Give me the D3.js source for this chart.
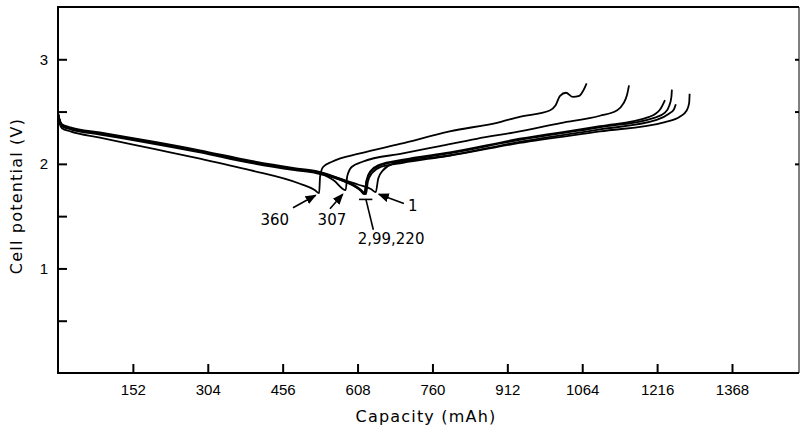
<!DOCTYPE html>
<html>
<head>
<meta charset="utf-8">
<script src="https://cdn.jsdelivr.net/npm/d3@7"></script>
<style>
  body { margin: 0; background: #fff; }
  svg { display: block; font-family: "DejaVu Sans", sans-serif; }
  .tick-label { font-size: 15px; fill: #000; }
  .axis-title { font-size: 16px; letter-spacing: 1.2px; fill: #000; }
  .note { font-size: 15px; fill: #000; }
</style>
</head>
<body>
<svg id="chart" width="800" height="429"></svg>
<script>
// tick values
const capacityTicks = [152, 304, 456, 608, 760, 912, 1064, 1216, 1368];
const voltageTicks = [0.5, 1, 1.5, 2, 2.5, 3];
const voltageLabels = [1, 2, 3];

// cycles: [capacity mAh, potential V]
const cycle1 = [[0,2.48],[3,2.42],[8,2.37],[25,2.34],[85,2.29],[197,2.20],[288,2.12],[390,2.02],[480,1.95],[525,1.92],[572,1.86],[610,1.80],[635,1.76],[645,1.73],
  [650,1.86],[660,1.94],[680,2.00],[714,2.03],[795,2.08],[937,2.20],[1100,2.31],[1232,2.40],[1262,2.45],[1276,2.51],[1281,2.58],[1282,2.67]];
const cycle2 = [[0,2.49],[3,2.43],[8,2.38],[25,2.35],[85,2.30],[197,2.21],[288,2.13],[390,2.03],[480,1.96],[525,1.93],[572,1.86],[600,1.80],[615,1.75],[623,1.71],
  [626,1.84],[634,1.93],[652,1.99],[700,2.04],[795,2.11],[937,2.24],[1100,2.36],[1200,2.45],[1222,2.52],[1232,2.61]];
const cycle99 = [[0,2.48],[3,2.42],[8,2.37],[25,2.34],[85,2.29],[197,2.20],[288,2.12],[390,2.02],[480,1.95],[525,1.92],[572,1.85],[600,1.79],[615,1.74],[621,1.71],
  [626,1.83],[634,1.92],[652,1.98],[700,2.03],[795,2.10],[937,2.23],[1100,2.35],[1210,2.44],[1232,2.49],[1241,2.56],[1245,2.64],[1246,2.71]];
const cycle220 = [[0,2.47],[3,2.41],[8,2.36],[25,2.33],[85,2.28],[197,2.19],[288,2.11],[390,2.01],[480,1.94],[525,1.91],[572,1.85],[600,1.79],[617,1.74],[625,1.71],
  [629,1.83],[637,1.91],[655,1.97],[700,2.01],[795,2.08],[937,2.21],[1100,2.33],[1215,2.42],[1240,2.48],[1250,2.52],[1254,2.57]];
const cycle307 = [[0,2.48],[3,2.42],[8,2.37],[25,2.34],[85,2.29],[197,2.20],[288,2.12],[390,2.02],[480,1.95],[525,1.92],[560,1.84],[584,1.75],
  [587,1.88],[596,1.97],[618,2.02],[700,2.10],[775,2.17],[850,2.24],[937,2.31],[1020,2.39],[1100,2.46],[1134,2.51],[1148,2.58],[1155,2.66],[1159,2.75]];
const cycle360 = [[0,2.46],[3,2.39],[8,2.34],[25,2.31],[85,2.25],[197,2.14],[288,2.05],[390,1.94],[491,1.81],[521,1.75],[530,1.72],
  [532,1.88],[538,1.97],[556,2.02],[613,2.10],[694,2.19],[795,2.31],[897,2.40],[937,2.45],[998,2.51],[1010,2.56],[1019,2.65],[1031,2.68],[1045,2.64],[1058,2.65],[1066,2.70],[1073,2.77]];

const cycles = [cycle1, cycle2, cycle99, cycle220, cycle307, cycle360];

// cycle number labels and their arrows (data units)
const arrowNotes = [
  { text: "360", at: [440, 1.42], from: [477, 1.58], to: [523, 1.70] },
  { text: "307", at: [556, 1.42], from: [552, 1.57], to: [578, 1.71] },
  { text: "1", at: [720, 1.55], from: [702, 1.62], to: [651, 1.71] }
];
const groupNote = { text: "2,99,220", at: [676, 1.23], from: [640, 1.37], to: [625, 1.66], bar: [611, 638] };

const svg = d3.select("#chart");
const margin = { left: 58, right: 1, top: 7, bottom: 56 };
const width = 800, height = 429;

const x = d3.scaleLinear().domain([0, 1504]).range([margin.left, width - margin.right]);
const y = d3.scaleLinear().domain([0, 3.5]).range([height - margin.bottom, margin.top]);

// frame
svg.append("path")
  .attr("d", `M${x(1504)},${y(3.5)} H${x(0)} V${y(0)} H${x(1504)}`)
  .attr("fill", "none").attr("stroke", "#000").attr("stroke-width", 2);
svg.append("line")
  .attr("x1", x(1504)).attr("x2", x(1504)).attr("y1", y(3.5)).attr("y2", y(0))
  .attr("stroke", "#000").attr("stroke-width", 1);

// bottom ticks (inward)
const xAxis = d3.axisBottom(x).tickValues(capacityTicks).tickSize(-9).tickPadding(0).tickFormat(d3.format("d"));
const gx = svg.append("g").attr("transform", `translate(0,${y(0)})`).call(xAxis);
gx.select(".domain").remove();
gx.selectAll(".tick line").attr("stroke-width", 2);
gx.selectAll(".tick text").attr("class", "tick-label").attr("y", 22).attr("dy", 0).style("font-family", null).style("font-size", null);

// left ticks (inward)
const yAxis = d3.axisLeft(y).tickValues(voltageTicks).tickSize(-9)
  .tickFormat(d => voltageLabels.includes(d) ? d : "");
const gy = svg.append("g").attr("transform", `translate(${x(0)},0)`).call(yAxis);
gy.select(".domain").remove();
gy.selectAll(".tick line").attr("stroke-width", 2);
gy.selectAll(".tick text").attr("class", "tick-label").attr("x", -10).style("font-family", null).style("font-size", null);

// right ticks (inward)
const gr = svg.append("g").attr("transform", `translate(${x(1504)},0)`)
  .call(d3.axisRight(y).tickValues([2, 2.5, 3]).tickSize(-4).tickFormat(""));
gr.select(".domain").remove();
gr.selectAll(".tick line").attr("stroke-width", 2);

// axis titles
svg.append("text").attr("class", "axis-title")
  .attr("x", 426).attr("y", 422).attr("text-anchor", "middle")
  .text("Capacity (mAh)");
svg.append("text").attr("class", "axis-title")
  .attr("transform", "translate(22,196) rotate(-90)").attr("text-anchor", "middle")
  .text("Cell potential (V)");

// curves
const line = d3.line().x(d => x(d[0])).y(d => y(d[1])).curve(d3.curveMonotoneX);
svg.append("g").selectAll("path").data(cycles).join("path")
  .attr("d", line)
  .attr("fill", "none").attr("stroke", "#000").attr("stroke-width", 1.8)
  .attr("stroke-linejoin", "round");

// arrow heads
svg.append("defs").append("marker")
  .attr("id", "head").attr("viewBox", "0 0 10 10").attr("refX", 9).attr("refY", 5)
  .attr("markerWidth", 7).attr("markerHeight", 7).attr("orient", "auto")
  .append("path").attr("d", "M0,1 L10,5 L0,9 Z").attr("fill", "#000");

const notes = svg.append("g");
arrowNotes.forEach(n => {
  notes.append("line")
    .attr("x1", x(n.from[0])).attr("y1", y(n.from[1]))
    .attr("x2", x(n.to[0])).attr("y2", y(n.to[1]))
    .attr("stroke", "#000").attr("stroke-width", 1.6).attr("marker-end", "url(#head)");
  notes.append("text").attr("class", "note")
    .attr("x", x(n.at[0])).attr("y", y(n.at[1])).attr("text-anchor", "middle")
    .text(n.text);
});
notes.append("line")
  .attr("x1", x(groupNote.from[0])).attr("y1", y(groupNote.from[1]))
  .attr("x2", x(groupNote.to[0])).attr("y2", y(groupNote.to[1]))
  .attr("stroke", "#000").attr("stroke-width", 1.6);
notes.append("line")
  .attr("x1", x(groupNote.bar[0])).attr("x2", x(groupNote.bar[1]))
  .attr("y1", y(groupNote.to[1])).attr("y2", y(groupNote.to[1]))
  .attr("stroke", "#000").attr("stroke-width", 1.6);
notes.append("text").attr("class", "note")
  .attr("x", x(groupNote.at[0])).attr("y", y(groupNote.at[1])).attr("text-anchor", "middle")
  .text(groupNote.text);
</script>
</body>
</html>
